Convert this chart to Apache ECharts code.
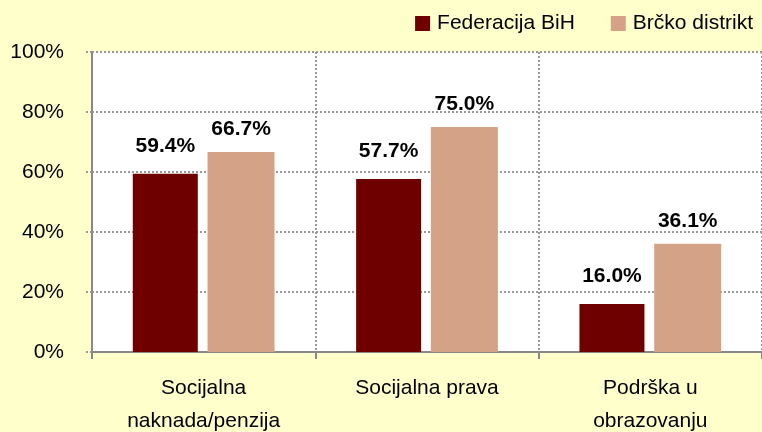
<!DOCTYPE html>
<html lang="bs">
<head>
<meta charset="UTF-8">
<title>Chart</title>
<script src="https://cdn.jsdelivr.net/npm/echarts@6/dist/echarts.min.js"></script>
<style>
  html, body { margin: 0; padding: 0; background: #FFFFCC; }
  #main { width: 762px; height: 432px; }
</style>
</head>
<body>
<div id="main"></div>
<script type="text/javascript">
var categories = ['Socijalna\nnaknada/penzija', 'Socijalna prava', 'Podrška u\nobrazovanju'];
var federacija = [59.4, 57.7, 16.0];
var brcko = [66.7, 75.0, 36.1];
var yTicks = [0, 20, 40, 60, 80, 100];

var font = '"Liberation Sans Narrow", "Arial Narrow", "Liberation Sans", sans-serif';

var chart = echarts.init(document.getElementById('main'));

function valueLabel(dist) {
    return {
        show: true,
        position: 'top',
        distance: dist,
        fontFamily: font,
        fontSize: 21,
        fontWeight: 'bold',
        color: '#000',
        formatter: function (p) { return p.value.toFixed(1) + '%'; }
    };
}

var option = {
    backgroundColor: '#FFFFCC',
    animation: false,
    legend: {
        right: 4,
        top: 8,
        itemWidth: 15,
        itemHeight: 15,
        itemGap: 36,
        icon: 'rect',
        textStyle: { fontFamily: font, fontSize: 21, color: '#000', padding: [0, 0, 0, 2] },
        data: ['Federacija BiH', 'Brčko distrikt']
    },
    grid: {
        left: 92, right: 0, top: 52, bottom: 80,
        outerBoundsMode: 'none',
        containLabel: false,
        show: true, backgroundColor: '#FFFFFF', borderWidth: 0
    },
    xAxis: {
        type: 'category',
        data: categories,
        axisLine: { lineStyle: { color: '#888', width: 2 } },
        axisTick: { show: true, length: 7, lineStyle: { color: '#888', width: 2 } },
        splitLine: { show: true, lineStyle: { color: '#999', type: 'dotted', width: 2 } },
        axisLabel: {
            fontFamily: font, fontSize: 21, color: '#000',
            lineHeight: 33, margin: 20
        }
    },
    yAxis: {
        type: 'value',
        min: yTicks[0],
        max: yTicks[yTicks.length - 1],
        interval: 20,
        axisLine: { show: true, lineStyle: { color: '#888', width: 2 } },
        axisTick: { show: true, length: 7, lineStyle: { color: '#999', type: 'dotted', width: 2 } },
        splitLine: { show: true, lineStyle: { color: '#999', type: 'dotted', width: 2 } },
        axisLabel: {
            fontFamily: font, fontSize: 21, color: '#000', margin: 28,
            formatter: function (v) { return v + '%'; }
        }
    },
    series: [
        {
            name: 'Federacija BiH',
            type: 'bar',
            data: federacija,
            barWidth: 65,
            barGap: '15%',
            itemStyle: { color: '#6E0000' },
            label: valueLabel(17)
        },
        {
            name: 'Brčko distrikt',
            type: 'bar',
            data: brcko,
            barWidth: 67,
            itemStyle: { color: '#D4A286' },
            label: valueLabel(12)
        }
    ]
};

chart.setOption(option);
</script>
</body>
</html>
